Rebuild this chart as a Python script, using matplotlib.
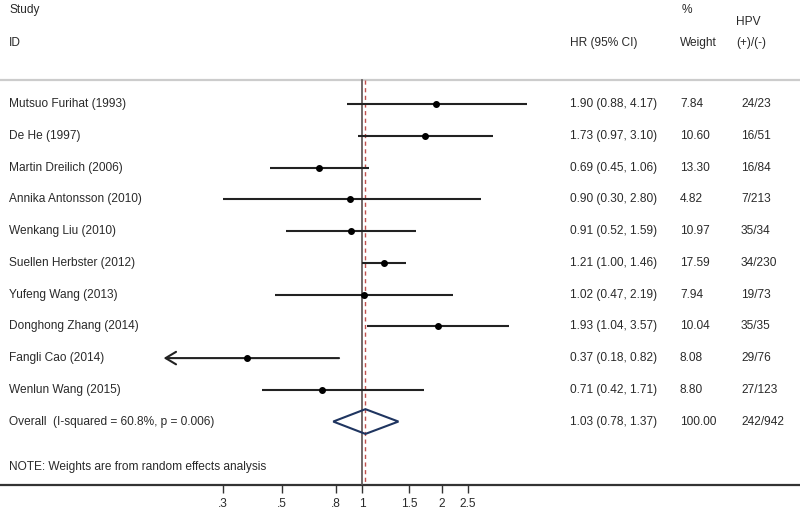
import matplotlib
matplotlib.use("Agg")
import matplotlib.pyplot as plt
import numpy as np

studies = ["Mutsuo Furihat (1993)", "De He (1997)", "Martin Dreilich (2006)",
           "Annika Antonsson (2010)", "Wenkang Liu (2010)", "Suellen Herbster (2012)",
           "Yufeng Wang (2013)", "Donghong Zhang (2014)", "Fangli Cao (2014)",
           "Wenlun Wang (2015)"]
hr = [1.90, 1.73, 0.69, 0.90, 0.91, 1.21, 1.02, 1.93, 0.37, 0.71]
lo = [0.88, 0.97, 0.45, 0.30, 0.52, 1.00, 0.47, 1.04, 0.18, 0.42]
hi = [4.17, 3.10, 1.06, 2.80, 1.59, 1.46, 2.19, 3.57, 0.82, 1.71]
weights = ["7.84", "10.60", "13.30", "4.82", "10.97", "17.59", "7.94", "10.04", "8.08", "8.80"]
hpv = ["24/23", "16/51", "16/84", "7/213", "35/34", "34/230", "19/73", "35/35", "29/76", "27/123"]
arrow_left = [False, False, False, False, False, False, False, False, True, False]

overall_label = "Overall  (I-squared = 60.8%, p = 0.006)"
overall_hr, overall_lo, overall_hi = 1.03, 0.78, 1.37
overall_weight = "100.00"
overall_hpv = "242/942"

tick_vals = [0.3, 0.5, 0.8, 1, 1.5, 2, 2.5]
tick_labels = [".3", ".5", ".8", "1", "1.5", "2", "2.5"]

plt.rcParams['font.family'] = ['Liberation Sans', 'DejaVu Sans']
TXT = '#2a2a2a'
FS = 8.6

fig = plt.figure(figsize=(8, 5.11), dpi=100)
ax = fig.add_axes([0, 26/511, 1, 485/511])
ax.set_xscale('log')
x0 = np.exp((0 - 362) / 115.7)
x1 = np.exp((800 - 362) / 115.7)
ax.set_xlim(x0, x1)
ytop = (0 - 104.3) / 31.73
ax.set_ylim(12.0, ytop)

for s in ['top', 'left', 'right']:
    ax.spines[s].set_visible(False)
ax.spines['bottom'].set_color('#333333')
ax.spines['bottom'].set_linewidth(1.6)
ax.set_yticks([])
ax.set_xticks(tick_vals)
ax.set_xticklabels(tick_labels)
ax.xaxis.set_minor_locator(matplotlib.ticker.NullLocator())
ax.tick_params(axis='x', direction='out', length=6, width=1, color='#333333',
               labelsize=FS, labelcolor=TXT, pad=3)

line_top = (80 - 104.3) / 31.73
# header separator
ax.axhline(line_top, color='#cccccc', lw=1.6)

# reference lines
ax.plot([1, 1], [line_top, 12], color='#5a5050', lw=1.2, zorder=3)
ax.plot([overall_hr, overall_hr], [line_top, 12], color='#c0504d', lw=1.0,
        dashes=(3, 2.5), zorder=3)

trans = matplotlib.transforms.blended_transform_factory(fig.transFigure, ax.transData)
def px(x):
    return x / 800.0

# headers
hy1 = (10 - 104.3) / 31.73
hy2 = (43 - 104.3) / 31.73
hy3 = (21.7 - 104.3) / 31.73
ax.text(px(9), hy1, "Study", transform=trans, fontsize=FS, color=TXT, va='center')
ax.text(px(9), hy2, "ID", transform=trans, fontsize=FS, color=TXT, va='center')
ax.text(px(570), hy2, "HR (95% CI)", transform=trans, fontsize=FS, color=TXT, va='center')
ax.text(px(682), hy1, "%", transform=trans, fontsize=FS, color=TXT, va='center')
ax.text(px(680), hy2, "Weight", transform=trans, fontsize=FS, color=TXT, va='center')
ax.text(px(736), hy3, "HPV", transform=trans, fontsize=FS, color=TXT, va='center')
ax.text(px(736), hy2, "(+)/(-)", transform=trans, fontsize=FS, color=TXT, va='center')

for i, name in enumerate(studies):
    y = i
    if arrow_left[i]:
        ax.annotate('', xy=(lo[i], y), xytext=(hi[i], y),
                    arrowprops=dict(arrowstyle='->,head_length=0.75,head_width=0.45',
                                    color='#222222', lw=1.5, shrinkA=0, shrinkB=0),
                    zorder=4)
    else:
        ax.plot([lo[i], hi[i]], [y, y], color='#222222', lw=1.5, zorder=4,
                solid_capstyle='butt')
    ax.plot(hr[i], y, 'o', color='black', markersize=4, zorder=5)
    ax.text(px(9), y, name, transform=trans, fontsize=FS, color=TXT, va='center')
    ax.text(px(570), y, f"{hr[i]:.2f} ({lo[i]:.2f}, {hi[i]:.2f})", transform=trans,
            fontsize=FS, color=TXT, va='center')
    ax.text(px(680), y, weights[i], transform=trans, fontsize=FS, color=TXT, va='center')
    ax.text(px(741), y, hpv[i], transform=trans, fontsize=FS, color=TXT, va='center')

yo = len(studies)
dh = 0.39
ax.fill([overall_lo, overall_hr, overall_hi, overall_hr, overall_lo],
        [yo, yo - dh, yo, yo + dh, yo], facecolor='none', edgecolor='#1f3560',
        lw=1.5, zorder=6)
ax.text(px(9), yo, overall_label, transform=trans, fontsize=FS, color=TXT, va='center')
ax.text(px(570), yo, f"{overall_hr:.2f} ({overall_lo:.2f}, {overall_hi:.2f})",
        transform=trans, fontsize=FS, color=TXT, va='center')
ax.text(px(680), yo, overall_weight, transform=trans, fontsize=FS, color=TXT, va='center')
ax.text(px(741), yo, overall_hpv, transform=trans, fontsize=FS, color=TXT, va='center')

ynote = (467 - 104.3) / 31.73
ax.text(px(9), ynote, "NOTE: Weights are from random effects analysis", transform=trans,
        fontsize=FS, color=TXT, va='center')

fig.savefig("out.png", dpi=100)
